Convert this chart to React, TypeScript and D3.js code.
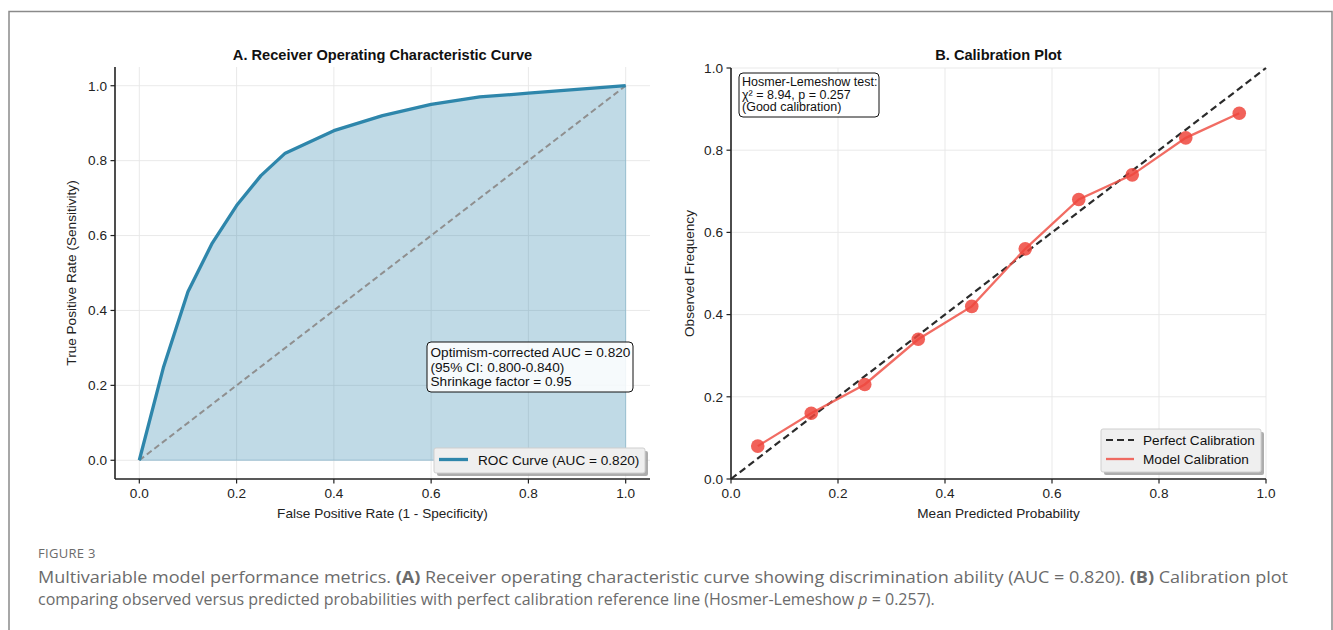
import React from "react";
import * as d3 from "d3";

// ---------- data ----------
const rocFpr = [0, 0.05, 0.1, 0.15, 0.2, 0.25, 0.3, 0.4, 0.5, 0.6, 0.7, 0.8, 0.9, 1.0];
const rocTpr = [0, 0.25, 0.45, 0.58, 0.68, 0.76, 0.82, 0.88, 0.92, 0.95, 0.97, 0.98, 0.99, 1.0];
const calPred = [0.05, 0.15, 0.25, 0.35, 0.45, 0.55, 0.65, 0.75, 0.85, 0.95];
const calObs = [0.08, 0.16, 0.23, 0.34, 0.42, 0.56, 0.68, 0.74, 0.83, 0.89];
const ticks = [0, 0.2, 0.4, 0.6, 0.8, 1.0];
const rocAnnot = ["Optimism-corrected AUC = 0.820", "(95% CI: 0.800-0.840)", "Shrinkage factor = 0.95"];
const hlAnnot = ["Hosmer-Lemeshow test:", "χ² = 8.94, p = 0.257", "(Good calibration)"];

const FONT = "Liberation Sans, Arial, sans-serif";
const fmt = d3.format(".1f");

const W = 1333;
const H = 630;

function Grid({ x, y, title }: any) {
  const [x0, x1] = x.range();
  const [y0, y1] = y.range();
  return (
    <g fontFamily={FONT}>
      {ticks.map((t) => (
        <line key={"gx" + t} x1={x(t)} x2={x(t)} y1={y0} y2={y1} stroke="#e6e6e6" strokeWidth={0.9} />
      ))}
      {ticks.map((t) => (
        <line key={"gy" + t} x1={x0} x2={x1} y1={y(t)} y2={y(t)} stroke="#e6e6e6" strokeWidth={0.9} />
      ))}
      <text x={(x0 + x1) / 2} y={60} textAnchor="middle" fontSize={14.6} fontWeight="bold" fill="#111">
        {title}
      </text>
    </g>
  );
}

function Spines({ x, y, xLabel, yLabel, yLabelX }: any) {
  const [x0, x1] = x.range();
  const [y0, y1] = y.range();
  return (
    <g fontFamily={FONT} fill="#222">
      <line x1={x0} x2={x0} y1={y0} y2={y1} stroke="#222" strokeWidth={1.6} />
      <line x1={x0} x2={x1} y1={y0} y2={y0} stroke="#222" strokeWidth={1.6} />
      {ticks.map((t) => (
        <g key={"tx" + t}>
          <line x1={x(t)} x2={x(t)} y1={y0} y2={y0 + 4.5} stroke="#222" strokeWidth={1.2} />
          <text x={x(t)} y={y0 + 18.5} textAnchor="middle" fontSize={13.6}>
            {fmt(t)}
          </text>
        </g>
      ))}
      {ticks.map((t) => (
        <g key={"ty" + t}>
          <line x1={x0 - 4.5} x2={x0} y1={y(t)} y2={y(t)} stroke="#222" strokeWidth={1.2} />
          <text x={x0 - 8} y={y(t) + 4.8} textAnchor="end" fontSize={13.6}>
            {fmt(t)}
          </text>
        </g>
      ))}
      <text x={(x0 + x1) / 2} y={y0 + 39} textAnchor="middle" fontSize={13.6}>
        {xLabel}
      </text>
      <text
        transform={`translate(${yLabelX},${(y0 + y1) / 2}) rotate(-90)`}
        textAnchor="middle"
        fontSize={13.6}
      >
        {yLabel}
      </text>
    </g>
  );
}

function RocPanel() {
  const x = d3.scaleLinear().domain([-0.05, 1.05]).range([115, 650]);
  const y = d3.scaleLinear().domain([-0.05, 1.05]).range([479, 67]);
  const pts = rocFpr.map((f, i) => [f, rocTpr[i]] as [number, number]);
  const line = d3.line<[number, number]>().x((d) => x(d[0])).y((d) => y(d[1]));
  const area = d3
    .area<[number, number]>()
    .x((d) => x(d[0]))
    .y0(y(0))
    .y1((d) => y(d[1]));
  const lx = 434, ly = 448, lw = 211, lh = 25;
  const ax = 427, ay = 342, aw = 206, ah = 50;
  return (
    <g>
      <Grid x={x} y={y} title="A. Receiver Operating Characteristic Curve" />
      <path d={area(pts) || ""} fill="#2E86AB" fillOpacity={0.3} stroke="#2E86AB" strokeOpacity={0.3} strokeWidth={1} />
      <line x1={x(0)} y1={y(0)} x2={x(1)} y2={y(1)} stroke="#8f8f8f" strokeWidth={2} strokeDasharray="6,3.5" />
      <path d={line(pts) || ""} fill="none" stroke="#2E86AB" strokeWidth={3.3} strokeLinejoin="round" />
      <Spines
        x={x}
        y={y}
        xLabel="False Positive Rate (1 - Specificity)"
        yLabel="True Positive Rate (Sensitivity)"
        yLabelX={76}
      />
      <rect x={ax} y={ay} width={aw} height={ah} rx={4} fill="#fff" fillOpacity={0.85} stroke="#111" strokeWidth={1} />
      {rocAnnot.map((s, i) => (
        <text key={s} x={ax + 3.5} y={ay + 15 + i * 14.5} fontSize={13.6} fontFamily={FONT} fill="#111">
          {s}
        </text>
      ))}
      <rect x={lx + 3} y={ly + 3} width={lw} height={lh} rx={2} fill="#999" fillOpacity={0.8} />
      <rect x={lx} y={ly} width={lw} height={lh} rx={2} fill="#efefef" stroke="#cfcfcf" strokeWidth={1} />
      <line x1={lx + 5} x2={lx + 34} y1={ly + 11.5} y2={ly + 11.5} stroke="#2E86AB" strokeWidth={3.3} />
      <text x={lx + 44} y={ly + 16.5} fontSize={13.6} fontFamily={FONT} fill="#111">
        ROC Curve (AUC = 0.820)
      </text>
    </g>
  );
}

function CalPanel() {
  const x = d3.scaleLinear().domain([0, 1]).range([731, 1266]);
  const y = d3.scaleLinear().domain([0, 1]).range([479, 68]);
  const pts = calPred.map((p, i) => [p, calObs[i]] as [number, number]);
  const line = d3.line<[number, number]>().x((d) => x(d[0])).y((d) => y(d[1]));
  const lx = 1101, ly = 429, lw = 160, lh = 43;
  const ax = 739, ay = 73, aw = 140, ah = 44;
  return (
    <g>
      <Grid x={x} y={y} title="B. Calibration Plot" />
      <line x1={x(0)} y1={y(0)} x2={x(1)} y2={y(1)} stroke="#2b2b2b" strokeWidth={2.2} strokeDasharray="7,4" />
      <path d={line(pts) || ""} fill="none" stroke="#ee5248" strokeOpacity={0.85} strokeWidth={2.3} />
      {pts.map((d, i) => (
        <circle key={i} cx={x(d[0])} cy={y(d[1])} r={6.8} fill="#ee463d" fillOpacity={0.85} />
      ))}
      <Spines x={x} y={y} xLabel="Mean Predicted Probability" yLabel="Observed Frequency" yLabelX={694} />
      <rect x={ax} y={ay} width={aw} height={ah} rx={4} fill="#fff" fillOpacity={0.85} stroke="#111" strokeWidth={1} />
      {hlAnnot.map((s, i) => (
        <text key={s} x={ax + 3} y={ay + 13 + i * 12.5} fontSize={12.5} fontFamily={FONT} fill="#111">
          {s}
        </text>
      ))}
      <rect x={lx + 3} y={ly + 3} width={lw} height={lh} rx={2} fill="#999" fillOpacity={0.8} />
      <rect x={lx} y={ly} width={lw} height={lh} rx={2} fill="#efefef" stroke="#cfcfcf" strokeWidth={1} />
      <line x1={lx + 5} x2={lx + 33} y1={ly + 11} y2={ly + 11} stroke="#2b2b2b" strokeWidth={2.2} strokeDasharray="7,4" />
      <text x={lx + 42} y={ly + 15.5} fontSize={13.6} fontFamily={FONT} fill="#111">
        Perfect Calibration
      </text>
      <line x1={lx + 5} x2={lx + 33} y1={ly + 30} y2={ly + 30} stroke="#ee5248" strokeOpacity={0.85} strokeWidth={2.3} />
      <text x={lx + 42} y={ly + 34.5} fontSize={13.6} fontFamily={FONT} fill="#111">
        Model Calibration
      </text>
    </g>
  );
}

export default function App() {
  const capFont = "'Open Sans', 'Noto Sans', sans-serif";
  return (
    <div style={{ position: "absolute", left: 0, top: 0 }}>
      <svg width={W} height={H} viewBox={`0 0 ${W} ${H}`} style={{ display: "block", background: "#fff" }}>
        <rect x={9} y={11.5} width={1323} height={700} fill="none" stroke="#8a8a8a" strokeWidth={1.5} />
        <RocPanel />
        <CalPanel />
        <g fontFamily={capFont} fill="#6b6b6b">
          <text x={38} y={557.5} fontSize={13} letterSpacing={0.3}>
            FIGURE 3
          </text>
          <text x={38} y={582.5} fontSize={16} textLength={1250} lengthAdjust="spacingAndGlyphs">
            Multivariable model performance metrics. <tspan fontWeight="bold">(A)</tspan> Receiver operating characteristic curve showing discrimination ability (AUC = 0.820). <tspan fontWeight="bold">(B)</tspan> Calibration plot
          </text>
          <text x={38} y={605} fontSize={16}>
            comparing observed versus predicted probabilities with perfect calibration reference line (Hosmer-Lemeshow <tspan fontStyle="italic">p</tspan> = 0.257).
          </text>
        </g>
      </svg>
    </div>
  );
}
